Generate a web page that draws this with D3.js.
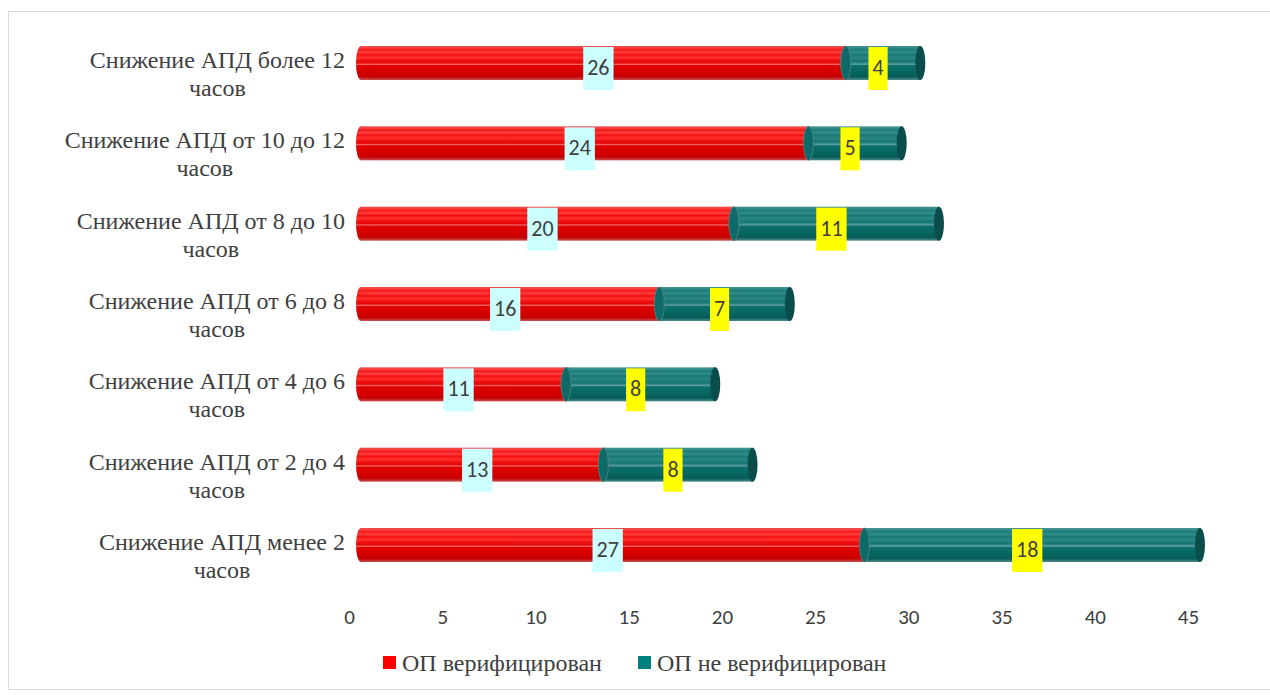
<!DOCTYPE html>
<html>
<head>
<meta charset="utf-8">
<script src="https://cdn.jsdelivr.net/npm/d3@7"></script>
<style>
  body { margin: 0; background: #fff; }
</style>
</head>
<body>
<script>
// categories top to bottom
let categories = [
  ['Снижение АПД более 12', 'часов'],
  ['Снижение АПД от 10 до 12', 'часов'],
  ['Снижение АПД от 8 до 10', 'часов'],
  ['Снижение АПД от 6 до 8', 'часов'],
  ['Снижение АПД от 4 до 6', 'часов'],
  ['Снижение АПД от 2 до 4', 'часов'],
  ['Снижение АПД менее 2', 'часов']
];
let verified = [26, 24, 20, 16, 11, 13, 27];
let notVerified = [4, 5, 11, 7, 8, 8, 18];
let ticks = [0, 5, 10, 15, 20, 25, 30, 35, 40, 45];
let seriesNames = ['ОП верифицирован', 'ОП не верифицирован'];

let w = 1270, h = 695;
let serif = '"Liberation Serif", "Times New Roman", serif';
let sans = 'Carlito, Calibri, "Open Sans", "Liberation Sans", sans-serif';

let svg = d3.select('body').append('svg')
    .attr('width', w)
    .attr('height', h)

let defs = svg.append('defs')

function cylGrad(id, stops) {
  let g = defs.append('linearGradient')
      .attr('id', id)
      .attr('x1', 0).attr('y1', 0).attr('x2', 0).attr('y2', 1)
  stops.forEach(s => g.append('stop').attr('offset', s[0]).attr('stop-color', s[1]))
}
cylGrad('redGrad', [
  [0, '#e85050'], [0.06, '#ff3a3a'], [0.12, '#f21818'], [0.18, '#ff4040'],
  [0.26, '#f01010'], [0.34, '#ff3030'], [0.42, '#ee1010'], [0.5, '#e60606'],
  [0.54, '#f07070'], [0.57, '#e00000'], [0.8, '#d20000'], [0.9, '#c40000'], [1, '#c85050']
])
cylGrad('tealGrad', [
  [0, '#4a9391'], [0.06, '#2e8a87'], [0.12, '#1a7c79'], [0.18, '#348d8a'],
  [0.26, '#177875'], [0.34, '#2a8683'], [0.46, '#147673'], [0.54, '#5fa09e'],
  [0.57, '#0c6f6c'], [0.8, '#07645f'], [0.9, '#055b58'], [1, '#4f8b89']
])

// outer border
svg.append('rect')
    .attr('x', 8.5).attr('y', 11.5)
    .attr('width', 1275).attr('height', 678)
    .attr('fill', 'none')
    .attr('stroke', '#d9d9d9')

let x = d3.scaleLinear().domain([0, 45]).range([361, 1200])
let y = d3.scalePoint().domain(d3.range(categories.length)).range([63, 545])

let barH = 34, rx = 5;
let labelShift = -5;   // labels sit a bit left of the 3d bar middle

// x axis labels (3d projection shifts them left of the bars)
let xAxis = svg.append('g')
    .attr('transform', 'translate(-12,603)')
    .call(d3.axisBottom(x).tickValues(ticks).tickSize(0).tickPadding(6))
xAxis.select('.domain').remove()
xAxis.selectAll('text')
    .style('font-family', sans)
    .style('font-size', '21px')
    .attr('fill', '#404040')

let rows = svg.selectAll('.row')
    .data(categories.map((c, i) => ({ c: c, i: i, a: verified[i], b: notVerified[i] })))
    .enter()
    .append('g')
    .attr('class', 'row')

let cy = d => y(d.i)

// rounded left end
rows.append('ellipse')
    .attr('cx', d => x(0))
    .attr('cy', d => cy(d))
    .attr('rx', rx)
    .attr('ry', barH / 2)
    .attr('fill', 'url(#redGrad)')
// red segments
rows.append('rect')
    .attr('x', d => x(0))
    .attr('y', d => cy(d) - barH / 2)
    .attr('width', d => x(d.a) - x(0))
    .attr('height', barH)
    .attr('fill', 'url(#redGrad)')
// teal segments
rows.append('rect')
    .attr('x', d => x(d.a))
    .attr('y', d => cy(d) - barH / 2)
    .attr('width', d => x(d.a + d.b) - x(d.a))
    .attr('height', barH)
    .attr('fill', 'url(#tealGrad)')
// boundary cap
rows.append('ellipse')
    .attr('cx', d => x(d.a))
    .attr('cy', d => cy(d))
    .attr('rx', rx)
    .attr('ry', barH / 2)
    .attr('fill', '#0e6a68')
    .attr('stroke', '#5a8a88')
    .attr('stroke-width', 0.7)
// right end cap
rows.append('ellipse')
    .attr('cx', d => x(d.a + d.b))
    .attr('cy', d => cy(d))
    .attr('rx', rx)
    .attr('ry', barH / 2)
    .attr('fill', '#0a4d4b')

// data labels
function dataLabel(sel, val, mid, fill) {
  let g = sel.append('g')
  g.append('rect')
      .attr('fill', fill)
  g.append('text')
      .attr('x', d => x(mid(d)) + labelShift)
      .attr('y', d => cy(d) + 12)
      .attr('text-anchor', 'middle')
      .style('font-family', sans)
      .style('font-size', '22px')
      .attr('fill', '#404040')
      .text(val)
  g.each(function(d) {
    let t = d3.select(this).select('text').node()
    let tw = t.getComputedTextLength()
    let bw = tw + 8
    d3.select(this).select('rect')
        .attr('x', x(mid(d)) + labelShift - bw / 2)
        .attr('y', cy(d) - 16)
        .attr('width', bw)
        .attr('height', 43)
  })
}
dataLabel(rows, d => d.a, d => d.a / 2, '#ccffff')
dataLabel(rows, d => d.b, d => d.a + d.b / 2, '#ffff00')

// category labels, first line right aligned, second centred under it
rows.each(function(d) {
  let g = d3.select(this)
  let t1 = g.append('text')
      .attr('x', 345)
      .attr('y', cy(d) + 5)
      .attr('text-anchor', 'end')
      .style('font-family', serif)
      .style('font-size', '24px')
      .attr('fill', '#404040')
      .text(d.c[0])
  let tw = t1.node().getComputedTextLength()
  g.append('text')
      .attr('x', 345 - tw / 2)
      .attr('y', cy(d) + 33)
      .attr('text-anchor', 'middle')
      .style('font-family', serif)
      .style('font-size', '24px')
      .attr('fill', '#404040')
      .text(d.c[1])
})

// legend
let legendColors = ['#ff0000', '#008080']
let legendX = [383, 638]
let legend = svg.selectAll('.legend')
    .data(seriesNames)
    .enter()
    .append('g')
    .attr('class', 'legend')
legend.append('rect')
    .attr('x', (d, i) => legendX[i])
    .attr('y', 656)
    .attr('width', 13)
    .attr('height', 13)
    .attr('fill', (d, i) => legendColors[i])
legend.append('text')
    .attr('x', (d, i) => legendX[i] + 19)
    .attr('y', 671)
    .style('font-family', serif)
    .style('font-size', '24px')
    .attr('fill', '#404040')
    .text(d => d)
</script>
</body>
</html>
